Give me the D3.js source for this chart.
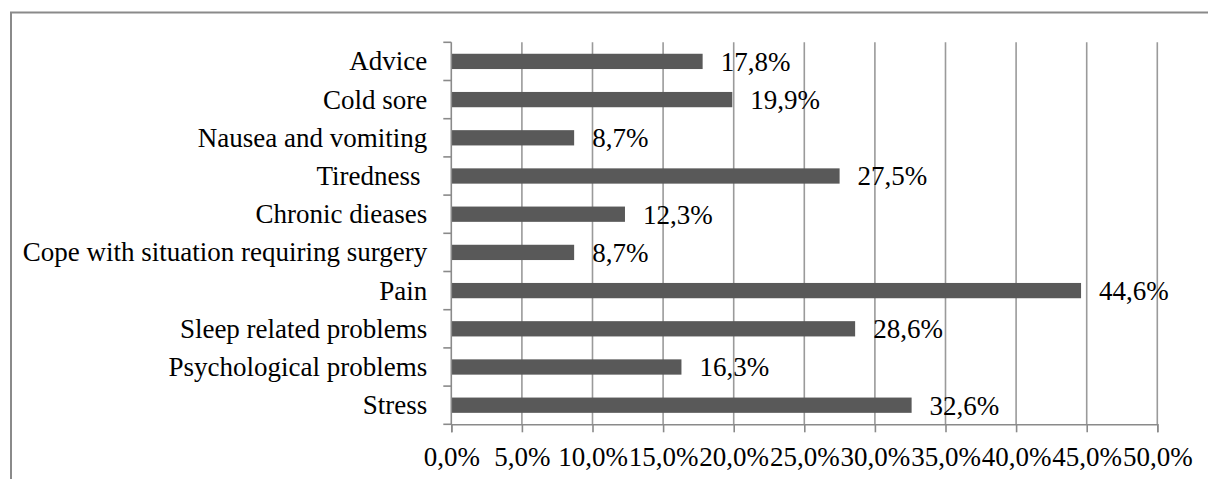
<!DOCTYPE html>
<html>
<head>
<meta charset="utf-8">
<script src="https://cdn.jsdelivr.net/npm/d3@7"></script>
<style>
html,body{margin:0;padding:0;background:#fff;}
svg{display:block;}
</style>
</head>
<body>
<svg id="chart" width="1208" height="479"></svg>
<script>
const categories = ["Advice","Cold sore","Nausea and vomiting","Tiredness ","Chronic dieases","Cope with situation requiring surgery","Pain","Sleep related problems","Psychological problems","Stress"];
const values = [17.8,19.9,8.7,27.5,12.3,8.7,44.6,28.6,16.3,32.6];
const xTicks = [0,5,10,15,20,25,30,35,40,45,50];

(function(){
const svg = d3.select("#chart");
const W = 1208, H = 479;
const pLeft = 451.3, pRight = 1157.3, pTop = 42.3, pBottom = 424.3;
const FONT = "'Liberation Serif'";
const FS = "27px";

svg.append("path")
  .attr("d", `M11,${H+2} L11,12.5 L${W+2},12.5`)
  .attr("fill","none").attr("stroke","#8a8a8a").attr("stroke-width",2);

const x = d3.scaleLinear().domain([0,50]).range([pLeft,pRight]);
const y = d3.scaleBand().domain(categories).range([pTop,pBottom]).paddingInner(0.6).paddingOuter(0.3);

const fmt = v => v.toFixed(1).replace(".",",") + "%";

svg.append("g").selectAll("line").data(xTicks.slice(1)).join("line")
  .attr("x1",d=>x(d)).attr("x2",d=>x(d)).attr("y1",pTop).attr("y2",pBottom)
  .attr("stroke","#9a9a9a").attr("stroke-width",1.6);

svg.append("g").selectAll("rect").data(values).join("rect")
  .attr("x",x(0)).attr("y",(d,i)=>y(categories[i]))
  .attr("width",d=>x(d)-x(0)).attr("height",y.bandwidth())
  .attr("fill","#595959");

const xAxis = d3.axisBottom(x).tickValues(xTicks).tickSize(8).tickPadding(15).tickFormat(fmt);
const gx = svg.append("g").attr("transform",`translate(0,${pBottom})`).call(xAxis);
gx.select(".domain").attr("stroke","#8a8a8a").attr("stroke-width",1.6);
gx.selectAll(".tick line").attr("stroke","#8a8a8a").attr("stroke-width",1.6);
gx.selectAll(".tick text").style("font-family",FONT).style("font-size",FS).attr("fill","#000");

const boundaries = d3.range(categories.length+1).map(i => pTop + i*(pBottom-pTop)/categories.length);
const gy = svg.append("g");
gy.append("line").attr("x1",pLeft).attr("x2",pLeft).attr("y1",pTop).attr("y2",pBottom)
  .attr("stroke","#8a8a8a").attr("stroke-width",1.6);
gy.selectAll("line.t").data(boundaries).join("line").attr("class","t")
  .attr("x1",pLeft-8).attr("x2",pLeft).attr("y1",d=>d).attr("y2",d=>d)
  .attr("stroke","#8a8a8a").attr("stroke-width",1.6);
gy.selectAll("text").data(categories).join("text")
  .attr("x",pLeft-24).attr("y",d=>y(d)+y.bandwidth()/2-0.5).attr("dy","0.35em")
  .attr("text-anchor","end")
  .style("font-family",FONT).style("font-size",FS)
  .style("white-space","pre")
  .text(d=>d);

svg.append("g").selectAll("text").data(values).join("text")
  .attr("x",d=>x(d)+18).attr("y",(d,i)=>y(categories[i])+y.bandwidth()/2).attr("dy","0.35em")
  .style("font-family",FONT).style("font-size",FS)
  .text(d=>fmt(d));
})();
</script>
</body>
</html>
